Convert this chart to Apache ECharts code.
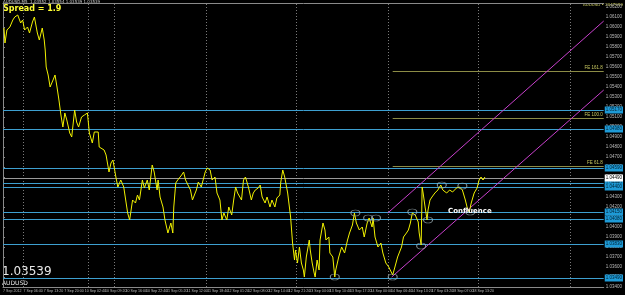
<!DOCTYPE html>
<html><head><meta charset="utf-8">
<script src="https://cdn.jsdelivr.net/npm/echarts@6/dist/echarts.min.js"></script>
<style>html,body{margin:0;padding:0;background:#000;overflow:hidden}#c{width:625px;height:295px}</style>
</head><body><div id="c"></div><script>
// ---- data ----
const bars = [1,2,4,7,10,12,15,18,20,22,25,27,30,32,35,37,40,42,43,44,46,48,51,53,55,57,59,61,63,65,68,70,73,75,77,80,83,86,88,91,93,97,98,100,103,105,108,110,112,115,117,120,123,125,127,129,132,135,137,139,142,144,147,149,152,154,157,158,160,163,165,168,171,173,174,176,178,182,184,186,188,191,193,197,199,202,204,206,208,211,213,216,218,221,223,225,228,230,233,235,237,239,243,245,247,250,253,255,257,260,262,264,267,269,272,274,277,279,282,283,285,287,290,293,295,297,298,300,302,304,306,307,309,312,313,315,317,318,320,322,323,326,328,329,332,333,336,338,339,342,345,348,351,353,356,358,360,363,366,368,371,373,376,377,379,382,385,387,390,393,397,399,402,404,406,408,411,413,415,417,420,423,424,426,427,428,430,432,433,435,437,440,443,446,448,452,455,458,462,465,468,471,473,475,477,480,483,485,487,489,491];
const prices = [1.0599,1.0584,1.0597,1.0600,1.0607,1.0610,1.0612,1.0604,1.0607,1.0597,1.0600,1.0594,1.0605,1.0610,1.0594,1.0587,1.0599,1.0587,1.0577,1.0560,1.0552,1.0540,1.0547,1.0552,1.0540,1.0527,1.0512,1.0500,1.0514,1.0507,1.0494,1.0490,1.0517,1.0505,1.0500,1.0510,1.0512,1.0514,1.0494,1.0484,1.0495,1.0495,1.0480,1.0480,1.0477,1.0472,1.0455,1.0464,1.0467,1.0450,1.0440,1.0447,1.0440,1.0427,1.0414,1.0407,1.0427,1.0424,1.0432,1.0427,1.0447,1.0439,1.0447,1.0437,1.0462,1.0455,1.0437,1.0447,1.0430,1.0420,1.0407,1.0394,1.0404,1.0394,1.0420,1.0444,1.0447,1.0452,1.0455,1.0447,1.0449,1.0437,1.0427,1.0437,1.0445,1.0440,1.0442,1.0455,1.0459,1.0457,1.0447,1.0450,1.0434,1.0427,1.0407,1.0414,1.0407,1.0420,1.0412,1.0427,1.0440,1.0434,1.0427,1.0447,1.0450,1.0440,1.0427,1.0434,1.0437,1.0439,1.0442,1.0430,1.0424,1.0430,1.0420,1.0427,1.0420,1.0429,1.0432,1.0445,1.0457,1.0450,1.0434,1.0410,1.0384,1.0367,1.0377,1.0364,1.0380,1.0364,1.0357,1.0350,1.0370,1.0387,1.0377,1.0364,1.0354,1.0350,1.0367,1.0357,1.0387,1.0404,1.0397,1.0387,1.0390,1.0374,1.0370,1.0350,1.0357,1.0370,1.0380,1.0374,1.0387,1.0394,1.0402,1.0414,1.0404,1.0397,1.0400,1.0390,1.0404,1.0409,1.0400,1.0409,1.0390,1.0380,1.0384,1.0374,1.0364,1.0360,1.0352,1.0359,1.0370,1.0370,1.0380,1.0390,1.0394,1.0397,1.0404,1.0414,1.0412,1.0405,1.0394,1.0382,1.0440,1.0434,1.0420,1.0407,1.0417,1.0427,1.0430,1.0434,1.0437,1.0442,1.0437,1.0434,1.0437,1.0435,1.0439,1.0440,1.0437,1.0427,1.0419,1.0415,1.0424,1.0434,1.0439,1.0447,1.0450,1.0447,1.0450];
const supportLevels = [1.0517,1.0498,1.0459,1.0444,1.0440,1.0415,1.0408,1.0383,1.0349];
const bidPrice = 1.0449;
const fibLevels = [1.0556,1.0509,1.0461];
const fibLabels = ['FE 161.8','FE 100.0','FE 61.8'];
const fibStartBar = 397;
const lastBar = 612;
const channelUpper = [[392,1.0414],[612,1.0606]];
const channelLower = [[396,1.0350],[612,1.0537]];
const swingBars = [338,359,372,380,397,417,426,433,447,468,476];
const swingPrices = [1.0350,1.0414,1.0409,1.0409,1.0350,1.0415,1.0381,1.0407,1.0442,1.0441,1.0415];
const separatorBars = [21,87,113,207,299,392,484,578];
const timeLabels = ['7 Sep 2012','7 Sep 06:40','7 Sep 13:20','7 Sep 20:00','10 Sep 02:40','10 Sep 09:20','10 Sep 16:00','10 Sep 22:40','11 Sep 05:20','11 Sep 12:00','11 Sep 18:40','12 Sep 01:20','12 Sep 08:00','12 Sep 14:40','12 Sep 21:20','13 Sep 04:00','13 Sep 10:40','13 Sep 17:20','14 Sep 00:00','14 Sep 06:40','14 Sep 13:20','17 Sep 03:20','18 Sep 07:00','18 Sep 13:20'];
const timeLabelStep = 20.8;
const priceMin = 1.0340, priceMax = 1.0624, priceStep = 0.001;

// ---- chart ----
const chart = echarts.init(document.getElementById('c'), null, {renderer:'canvas'});
const cyan = '#3d9fd0', olive = '#8c8c46', magenta = '#c840cc', grayDot = '#7a7a7a';
const fmt = v => Number(v).toFixed(5);

chart.setOption({
  backgroundColor:'#000',
  animation:false,
  grid:{left:0,right:13,top:3,bottom:8},
  xAxis:[{
    type:'value',min:0,max:lastBar,interval:timeLabelStep,
    axisLine:{show:true,lineStyle:{color:'#8a8a8a',width:1}},
    axisTick:{show:false},splitLine:{show:false},
    axisLabel:{show:true,color:'#bbbbbb',fontSize:3.6,margin:2,align:'left',showMaxLabel:false,
      formatter:v=>{const i=Math.round(v/timeLabelStep);return i<timeLabels.length?timeLabels[i]:'';}}
  },{
    type:'value',min:0,max:lastBar,position:'top',
    axisLine:{show:true,onZero:false,lineStyle:{color:'#8a8a8a',width:1}},
    axisTick:{show:false},axisLabel:{show:false},splitLine:{show:false}
  }],
  yAxis:{
    type:'value',position:'right',min:priceMin,max:priceMax,interval:priceStep,
    axisLine:{show:true,lineStyle:{color:'#8a8a8a',width:1}},
    axisTick:{show:true,length:2,lineStyle:{color:'#8a8a8a'}},
    splitLine:{show:false},
    axisLabel:{color:'#bbbbbb',fontSize:4.5,margin:2,showMaxLabel:false,formatter:fmt}
  },
  series:[
    {
      type:'line',name:'separators',data:[],silent:true,
      markLine:{symbol:'none',silent:true,precision:5,label:{show:false},
        lineStyle:{color:grayDot,type:[1,2],width:1},
        data:separatorBars.map(b=>({xAxis:b}))}
    },
    {
      type:'line',name:'levels',data:[],silent:true,
      markLine:{symbol:'none',silent:true,precision:5,
        label:{show:true,position:'end',distance:1,formatter:p=>fmt(p.value),backgroundColor:'#1e9ad6',color:'#002233',fontSize:4.5,padding:[1,1]},
        lineStyle:{color:cyan,type:'solid',width:1},
        data:supportLevels.map(v=>({yAxis:v})).concat([{yAxis:bidPrice,lineStyle:{color:'#9a9a9a',width:1},label:{backgroundColor:'#ffffff',color:'#000'}}])}
    },
    {
      type:'line',name:'fib',data:[],silent:true,
      markLine:{symbol:'none',silent:true,precision:5,
        lineStyle:{color:olive,type:'solid',width:1},
        label:{show:true,position:'insideEndTop',distance:[1,1],color:'#c8c860',fontSize:4.5},
        data:fibLevels.map((v,i)=>[{coord:[fibStartBar,v],name:fibLabels[i]},{coord:[lastBar,v]}]),
      }
    },
    {
      type:'line',name:'channel',data:[],silent:true,
      markLine:{symbol:'none',silent:true,precision:5,label:{show:false},
        lineStyle:{color:magenta,type:'solid',width:1},
        data:[[{coord:channelUpper[0]},{coord:channelUpper[1]}],[{coord:channelLower[0]},{coord:channelLower[1]}]]}
    },
    {
      type:'line',name:'AUDUSD',data:bars.map((b,i)=>[b,prices[i]]),
      showSymbol:false,lineStyle:{color:'#f2f200',width:1},z:5
    },
    {
      type:'scatter',name:'swings',data:swingBars.map((b,i)=>[b,swingPrices[i]]),
      symbol:'circle',symbolSize:[9,6],
      itemStyle:{color:'rgba(0,0,0,0)',borderColor:'#a3b4ba',borderWidth:0.9},z:6
    }
  ],
  graphic:[
    {type:'text',left:3,top:0,style:{text:'AUDUSD,M5  1.03552 1.03554 1.03539 1.03539',fill:'#c8c8c8',fontSize:4,fontFamily:'DejaVu Sans'}},
    {type:'text',left:3,top:5,style:{text:'Spread = 1.9',fill:'#ffff33',fontSize:8,fontWeight:'bold',fontFamily:'DejaVu Sans'}},
    {type:'text',left:583,top:3,style:{text:'AUDUSD • 2047959',fill:'#c8c860',fontSize:4,fontFamily:'DejaVu Sans'}},
    {type:'text',left:448,top:208,style:{text:'Confluence',fill:'#ffffff',fontSize:7,fontWeight:'bold',fontFamily:'DejaVu Sans'},z:10},
    {type:'text',left:2,top:266,style:{text:'1.03539',fill:'#e8e8e8',fontSize:12,fontFamily:'DejaVu Sans'}},
    {type:'text',left:2,top:280,style:{text:'AUDUSD',fill:'#e8e8e8',fontSize:6,fontFamily:'DejaVu Sans'}}
  ]
});
</script></body></html>
